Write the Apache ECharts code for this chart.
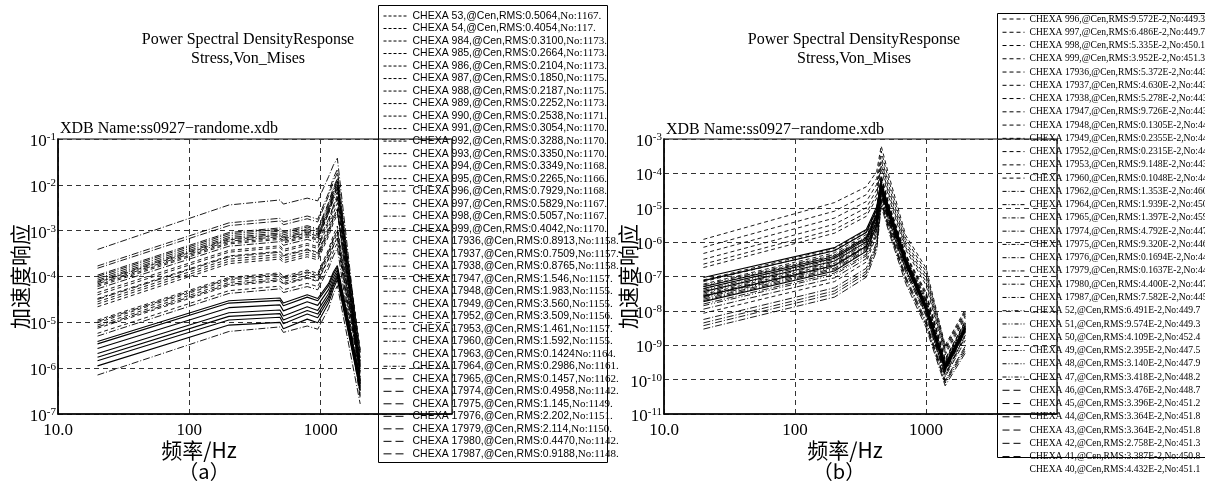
<!DOCTYPE html>
<html>
<head>
<meta charset="utf-8">
<title>Power Spectral Density Response</title>
<script src="https://cdn.jsdelivr.net/npm/echarts@6/dist/echarts.min.js"></script>
<style>
  html, body { margin: 0; padding: 0; background: #fff; }
  #main { width: 1205px; height: 481px; }
</style>
</head>
<body>
<div id="main"></div>
<script>
// 频率点 (Hz)
var freqA = [20, 200, 490, 520, 790, 950, 1150, 1250, 1340, 2000];
var freqB = [20, 200, 350, 420, 455, 520, 700, 1000, 1400, 2000];

// x 轴刻度文字
var xTicks = [10, 100, 1000];
var xTickText = ['10.0', '100', '1000'];

// (a) 图例名称
var namesA = [
  'CHEXA 53,@Cen,RMS:0.5064,No:1167.', 'CHEXA 54,@Cen,RMS:0.4054,No:117.',
  'CHEXA 984,@Cen,RMS:0.3100,No:1173.', 'CHEXA 985,@Cen,RMS:0.2664,No:1173.',
  'CHEXA 986,@Cen,RMS:0.2104,No:1173.', 'CHEXA 987,@Cen,RMS:0.1850,No:1175.',
  'CHEXA 988,@Cen,RMS:0.2187,No:1175.', 'CHEXA 989,@Cen,RMS:0.2252,No:1173.',
  'CHEXA 990,@Cen,RMS:0.2538,No:1171.', 'CHEXA 991,@Cen,RMS:0.3054,No:1170.',
  'CHEXA 992,@Cen,RMS:0.3288,No:1170.', 'CHEXA 993,@Cen,RMS:0.3350,No:1170.',
  'CHEXA 994,@Cen,RMS:0.3349,No:1168.', 'CHEXA 995,@Cen,RMS:0.2265,No:1166.',
  'CHEXA 996,@Cen,RMS:0.7929,No:1168.', 'CHEXA 997,@Cen,RMS:0.5829,No:1167.',
  'CHEXA 998,@Cen,RMS:0.5057,No:1167.', 'CHEXA 999,@Cen,RMS:0.4042,No:1170.',
  'CHEXA 17936,@Cen,RMS:0.8913,No:1158.', 'CHEXA 17937,@Cen,RMS:0.7509,No:1157.',
  'CHEXA 17938,@Cen,RMS:0.8765,No:1158.', 'CHEXA 17947,@Cen,RMS:1.546,No:1157.',
  'CHEXA 17948,@Cen,RMS:1.983,No:1155.', 'CHEXA 17949,@Cen,RMS:3.560,No:1155.',
  'CHEXA 17952,@Cen,RMS:3.509,No:1156.', 'CHEXA 17953,@Cen,RMS:1.461,No:1157.',
  'CHEXA 17960,@Cen,RMS:1.592,No:1155.', 'CHEXA 17963,@Cen,RMS:0.1424No:1164.',
  'CHEXA 17964,@Cen,RMS:0.2986,No:1161.', 'CHEXA 17965,@Cen,RMS:0.1457,No:1162.',
  'CHEXA 17974,@Cen,RMS:0.4958,No:1142.', 'CHEXA 17975,@Cen,RMS:1.145,No:1149.',
  'CHEXA 17976,@Cen,RMS:2.202,No:1151.', 'CHEXA 17979,@Cen,RMS:2.114,No:1150.',
  'CHEXA 17980,@Cen,RMS:0.4470,No:1142.', 'CHEXA 17987,@Cen,RMS:0.9188,No:1148.'
];
var stylesA = [
  'dash', 'dash', 'dash', 'dash', 'dash', 'dash', 'dash', 'dash', 'dash', 'dash', 'dash', 'dash', 'dash', 'dash',
  'dashdot', 'dashdot', 'dashdot', 'dashdot', 'dashdot', 'dashdot', 'dashdot', 'dashdot', 'dashdot', 'dashdot',
  'dashdot', 'dashdot', 'dashdot', 'dashdot', 'dashdot',
  'solid', 'solid', 'solid', 'solid', 'solid', 'solid', 'solid'
];

// (a) 响应值, 按对数坐标读出的 10 的幂次, 对应 freqA
var eA53    = [-4.22, -3.29, -3.19, -3.27, -3.14, -3.21, -2.62, -2.28, -2.05, -5.62];
var eA54    = [-4.35, -3.43, -3.33, -3.41, -3.28, -3.35, -2.78, -2.45, -2.22, -5.70];
var eA984   = [-4.40, -3.47, -3.37, -3.45, -3.32, -3.39, -2.84, -2.52, -2.30, -5.78];
var eA985   = [-4.48, -3.55, -3.45, -3.53, -3.40, -3.47, -2.93, -2.62, -2.40, -5.83];
var eA986   = [-4.55, -3.62, -3.52, -3.60, -3.47, -3.54, -3.02, -2.72, -2.52, -5.90];
var eA987   = [-4.66, -3.72, -3.62, -3.70, -3.57, -3.64, -3.12, -2.83, -2.64, -5.95];
var eA988   = [-4.95, -4.02, -3.92, -4.00, -3.86, -3.93, -3.40, -3.10, -2.90, -5.98];
var eA989   = [-5.01, -4.08, -3.98, -4.06, -3.92, -3.99, -3.47, -3.18, -2.98, -6.02];
var eA990   = [-5.06, -4.13, -4.03, -4.11, -3.97, -4.04, -3.53, -3.25, -3.05, -6.05];
var eA991   = [-5.13, -4.20, -4.10, -4.18, -4.04, -4.11, -3.62, -3.33, -3.14, -6.08];
var eA992   = [-5.24, -4.31, -4.21, -4.29, -4.15, -4.22, -3.73, -3.45, -3.26, -6.12];
var eA993   = [-4.13, -3.20, -3.10, -3.18, -3.05, -3.12, -2.52, -2.16, -1.92, -5.60];
var eA994   = [-4.19, -3.26, -3.16, -3.24, -3.11, -3.18, -2.58, -2.24, -2.00, -5.65];
var eA995   = [-4.60, -3.67, -3.57, -3.65, -3.52, -3.59, -3.06, -2.77, -2.58, -5.92];
var eA996   = [-3.41, -2.44, -2.33, -2.42, -2.29, -2.35, -1.82, -1.57, -1.42, -5.85];
var eA997   = [-3.77, -2.83, -2.73, -2.81, -2.68, -2.75, -2.17, -1.85, -1.66, -5.95];
var eA998   = [-3.82, -2.89, -2.79, -2.87, -2.74, -2.81, -2.24, -1.93, -1.74, -6.00];
var eA999   = [-3.97, -3.04, -2.94, -3.02, -2.89, -2.96, -2.38, -2.06, -1.86, -6.10];
var eA17936 = [-4.00, -3.07, -2.97, -3.05, -2.92, -2.99, -2.42, -2.10, -1.90, -6.15];
var eA17937 = [-4.04, -3.11, -3.01, -3.09, -2.96, -3.03, -2.47, -2.16, -1.96, -6.20];
var eA17938 = [-4.08, -3.15, -3.05, -3.13, -3.00, -3.07, -2.52, -2.21, -2.02, -6.25];
var eA17947 = [-4.11, -3.18, -3.08, -3.16, -3.03, -3.10, -2.56, -2.26, -2.08, -6.30];
var eA17948 = [-4.16, -3.23, -3.13, -3.21, -3.08, -3.15, -2.62, -2.33, -2.15, -6.35];
var eA17949 = [-4.27, -3.34, -3.24, -3.32, -3.19, -3.26, -2.74, -2.46, -2.28, -6.40];
var eA17952 = [-4.50, -3.57, -3.47, -3.55, -3.42, -3.49, -2.98, -2.70, -2.53, -6.50];
var eA17953 = [-4.98, -4.05, -3.95, -4.03, -3.90, -3.97, -3.46, -3.18, -3.01, -6.55];
var eA17960 = [-5.10, -4.17, -4.07, -4.15, -4.02, -4.09, -3.60, -3.33, -3.16, -6.60];
var eA17963 = [-6.15, -5.20, -5.10, -5.22, -5.08, -5.15, -4.70, -4.38, -4.20, -6.78];
var eA17964 = [-5.30, -4.37, -4.27, -4.35, -4.22, -4.29, -3.82, -3.55, -3.38, -6.65];
var eA17965 = [-5.42, -4.53, -4.47, -4.58, -4.40, -4.48, -4.15, -3.90, -3.76, -6.25];
var eA17974 = [-5.47, -4.58, -4.52, -4.64, -4.45, -4.53, -4.20, -3.95, -3.80, -6.28];
var eA17975 = [-5.57, -4.68, -4.62, -4.75, -4.55, -4.63, -4.28, -4.02, -3.86, -6.32];
var eA17976 = [-5.68, -4.79, -4.73, -4.86, -4.66, -4.74, -4.37, -4.09, -3.92, -6.36];
var eA17979 = [-5.76, -4.87, -4.81, -4.95, -4.74, -4.82, -4.44, -4.15, -3.97, -6.40];
var eA17980 = [-5.84, -4.95, -4.89, -5.03, -4.82, -4.90, -4.50, -4.20, -4.01, -6.44];
var eA17987 = [-5.95, -5.06, -5.00, -5.14, -4.93, -5.01, -4.58, -4.27, -4.07, -6.48];
var valsA = [eA53, eA54, eA984, eA985, eA986, eA987, eA988, eA989, eA990, eA991, eA992, eA993,
  eA994, eA995, eA996, eA997, eA998, eA999, eA17936, eA17937, eA17938, eA17947, eA17948,
  eA17949, eA17952, eA17953, eA17960, eA17963, eA17964, eA17965, eA17974, eA17975, eA17976,
  eA17979, eA17980, eA17987];

// (b) 图例名称
var namesB = [
  'CHEXA 996,@Cen,RMS:9.572E-2,No:449.3', 'CHEXA 997,@Cen,RMS:6.486E-2,No:449.7',
  'CHEXA 998,@Cen,RMS:5.335E-2,No:450.1', 'CHEXA 999,@Cen,RMS:3.952E-2,No:451.3',
  'CHEXA 17936,@Cen,RMS:5.372E-2,No:443.6', 'CHEXA 17937,@Cen,RMS:4.630E-2,No:443.8',
  'CHEXA 17938,@Cen,RMS:5.278E-2,No:443.5', 'CHEXA 17947,@Cen,RMS:9.726E-2,No:443.1',
  'CHEXA 17948,@Cen,RMS:0.1305E-2,No:448.6', 'CHEXA 17949,@Cen,RMS:0.2355E-2,No:447.3',
  'CHEXA 17952,@Cen,RMS:0.2315E-2,No:446.2', 'CHEXA 17953,@Cen,RMS:9.148E-2,No:443.4',
  'CHEXA 17960,@Cen,RMS:0.1048E-2,No:448.0', 'CHEXA 17962,@Cen,RMS:1.353E-2,No:460.1',
  'CHEXA 17964,@Cen,RMS:1.939E-2,No:450.6', 'CHEXA 17965,@Cen,RMS:1.397E-2,No:459.2',
  'CHEXA 17974,@Cen,RMS:4.792E-2,No:447.1', 'CHEXA 17975,@Cen,RMS:9.320E-2,No:446.5',
  'CHEXA 17976,@Cen,RMS:0.1694E-2,No:447.7', 'CHEXA 17979,@Cen,RMS:0.1637E-2,No:447.9',
  'CHEXA 17980,@Cen,RMS:4.400E-2,No:447.2', 'CHEXA 17987,@Cen,RMS:7.582E-2,No:445.8',
  'CHEXA 52,@Cen,RMS:6.491E-2,No:449.7', 'CHEXA 51,@Cen,RMS:9.574E-2,No:449.3',
  'CHEXA 50,@Cen,RMS:4.109E-2,No:452.4', 'CHEXA 49,@Cen,RMS:2.395E-2,No:447.5',
  'CHEXA 48,@Cen,RMS:3.140E-2,No:447.9', 'CHEXA 47,@Cen,RMS:3.418E-2,No:448.2',
  'CHEXA 46,@Cen,RMS:3.476E-2,No:448.7', 'CHEXA 45,@Cen,RMS:3.396E-2,No:451.2',
  'CHEXA 44,@Cen,RMS:3.364E-2,No:451.8', 'CHEXA 43,@Cen,RMS:3.364E-2,No:451.8',
  'CHEXA 42,@Cen,RMS:2.758E-2,No:451.3', 'CHEXA 41,@Cen,RMS:3.387E-2,No:450.8',
  'CHEXA 40,@Cen,RMS:4.432E-2,No:451.1'
];
var stylesB = [
  'dash', 'dash', 'dash', 'dash', 'dash', 'dash', 'dash', 'dash', 'dash', 'dash', 'dash', 'dash', 'dash',
  'dashdot', 'dashdot', 'dashdot', 'dashdot', 'dashdot', 'dashdot', 'dashdot', 'dashdot', 'dashdot',
  'dashdot2', 'dashdot2', 'dashdot2', 'dashdot2', 'dashdot2', 'dashdot2',
  'solid', 'solid', 'solid', 'solid', 'solid', 'solid', 'plain'
];

// (b) 响应值, 10 的幂次, 对应 freqB
var eB996   = [-5.92, -4.85, -4.39, -3.95, -3.20, -4.05, -5.80, -6.75, -9.00, -7.95];
var eB997   = [-6.15, -5.10, -4.62, -4.15, -3.35, -4.20, -5.90, -6.85, -9.05, -8.00];
var eB998   = [-6.33, -5.30, -4.82, -4.32, -3.50, -4.35, -6.00, -6.95, -9.10, -8.05];
var eB999   = [-6.50, -5.48, -5.00, -4.48, -3.62, -4.48, -6.08, -7.05, -9.15, -8.10];
var eB17936 = [-6.64, -5.63, -5.15, -4.62, -3.75, -4.60, -6.15, -7.15, -9.22, -8.15];
var eB17937 = [-6.74, -5.74, -5.25, -4.72, -3.85, -4.70, -6.22, -7.25, -9.28, -8.20];
var eB17938 = [-7.10, -6.18, -5.66, -5.02, -4.05, -4.88, -6.35, -7.45, -9.40, -8.28];
var eB17947 = [-7.22, -6.31, -5.78, -5.12, -4.12, -4.95, -6.40, -7.55, -9.45, -8.32];
var eB17948 = [-7.29, -6.38, -5.86, -5.18, -4.18, -5.00, -6.45, -7.62, -9.50, -8.36];
var eB17949 = [-7.36, -6.45, -5.93, -5.24, -4.22, -5.05, -6.50, -7.70, -9.55, -8.40];
var eB17952 = [-7.52, -6.62, -6.10, -5.38, -4.30, -5.12, -6.58, -7.80, -9.62, -8.46];
var eB17953 = [-8.07, -7.15, -6.58, -5.80, -4.55, -5.35, -6.80, -8.10, -9.85, -8.70];
var eB17960 = [-7.15, -6.23, -5.71, -5.06, -4.08, -4.92, -6.38, -7.50, -9.42, -8.30];
var eB17962 = [-7.59, -6.68, -6.15, -5.45, -4.45, -5.25, -6.62, -7.90, -9.70, -8.55];
var eB17964 = [-7.66, -6.76, -6.22, -5.52, -4.50, -5.30, -6.68, -7.95, -9.75, -8.60];
var eB17965 = [-8.43, -7.50, -6.92, -6.15, -4.85, -5.62, -7.10, -8.40, -10.10, -9.15];
var eB17974 = [-8.53, -7.60, -7.02, -6.25, -4.95, -5.70, -7.20, -8.48, -10.18, -9.22];
var eB17975 = [-7.80, -6.90, -6.35, -5.62, -4.58, -5.38, -6.78, -8.05, -9.85, -8.70];
var eB17976 = [-8.25, -7.33, -6.76, -6.00, -4.75, -5.52, -7.00, -8.28, -10.02, -9.02];
var eB17979 = [-7.95, -7.04, -6.48, -5.74, -4.65, -5.45, -6.88, -8.15, -9.92, -8.85];
var eB17980 = [-7.70, -6.80, -6.26, -5.55, -4.52, -5.32, -6.70, -7.98, -9.78, -8.62];
var eB17987 = [-8.35, -7.42, -6.85, -6.08, -4.80, -5.58, -7.05, -8.35, -10.06, -9.08];
var eB52    = [-7.48, -6.58, -6.05, -5.34, -4.36, -5.16, -6.56, -7.78, -9.60, -8.44];
var eB51    = [-7.55, -6.65, -6.12, -5.40, -4.40, -5.20, -6.60, -7.84, -9.65, -8.48];
var eB50    = [-7.62, -6.72, -6.18, -5.47, -4.46, -5.26, -6.64, -7.90, -9.70, -8.52];
var eB49    = [-7.40, -6.50, -5.98, -5.28, -4.32, -5.12, -6.52, -7.72, -9.56, -8.40];
var eB48    = [-7.25, -6.36, -5.84, -5.15, -4.25, -5.06, -6.46, -7.66, -9.50, -8.36];
var eB47    = [-7.85, -6.95, -6.40, -5.66, -4.60, -5.40, -6.80, -8.08, -9.88, -8.76];
var eB46    = [-7.03, -6.16, -5.63, -4.97, -4.28, -5.00, -6.45, -7.82, -9.55, -8.45];
var eB45    = [-7.12, -6.25, -5.72, -5.05, -4.32, -5.04, -6.50, -7.86, -9.58, -8.48];
var eB44    = [-7.30, -6.42, -5.88, -5.18, -4.38, -5.10, -6.55, -7.90, -9.62, -8.50];
var eB43    = [-7.44, -6.55, -6.00, -5.28, -4.42, -5.14, -6.58, -7.93, -9.65, -8.52];
var eB42    = [-7.57, -6.68, -6.12, -5.38, -4.46, -5.18, -6.62, -7.96, -9.68, -8.55];
var eB41    = [-7.73, -6.84, -6.27, -5.50, -4.50, -5.22, -6.66, -8.00, -9.72, -8.58];
var eB40    = [-7.35, -6.47, -5.92, -5.22, -4.40, -5.12, -6.56, -7.91, -9.63, -8.51];
var valsB = [eB996, eB997, eB998, eB999, eB17936, eB17937, eB17938, eB17947, eB17948, eB17949,
  eB17952, eB17953, eB17960, eB17962, eB17964, eB17965, eB17974, eB17975, eB17976, eB17979,
  eB17980, eB17987, eB52, eB51, eB50, eB49, eB48, eB47, eB46, eB45, eB44, eB43, eB42, eB41, eB40];

// 线型
var plotDash = {dash: [4, 3], dashdot: [7, 2, 1, 2], dashdot2: [6, 2, 1, 2, 1, 2], solid: 'solid', plain: 'solid'};
var legendDashA = {dash: [3, 2], dashdot: [4, 2, 1, 2], solid: [8, 4]};
var legendDashB = {dash: [4, 3], dashdot: [4, 2, 1, 2], dashdot2: [4, 2, 1, 2, 1, 2], solid: [7, 4], plain: 'solid'};

var serif = 'Liberation Serif';
var cjk = 'Noto Sans CJK SC';

function makeSeries(names, styles, vals, freq, idx) {
  return names.map(function (n, i) {
    var st = styles[i];
    return {
      name: n, type: 'line', xAxisIndex: idx, yAxisIndex: idx,
      symbol: 'none', silent: true, animation: false, color: '#000',
      lineStyle: {color: '#000', width: (st === 'solid' || st === 'plain') ? 1.1 : 0.9, type: plotDash[st]},
      data: freq.map(function (f, k) { return [f, Math.pow(10, vals[i][k])]; })
    };
  });
}

function legendItems(names, styles, dashes) {
  return names.map(function (n, i) {
    var st = styles[i];
    return {name: n, lineStyle: {type: dashes[st], width: 1, color: '#000', opacity: st === 'plain' ? 0 : 1}};
  });
}

function legendText(name) {
  var k = name.lastIndexOf('No:');
  return '{m|' + name.slice(0, k) + '}{n|' + name.slice(k) + '}';
}

function xLabel(v) {
  var i = xTicks.indexOf(Math.round(v));
  return i < 0 ? '' : xTickText[i];
}

function yLabel(v) {
  var e = Math.round(Math.log(v) / Math.LN10);
  return '{b|10}{s|' + e + '}';
}

var supRich = {
  b: {fontFamily: serif, fontSize: 17, lineHeight: 18, color: '#000', verticalAlign: 'bottom'},
  s: {fontFamily: serif, fontSize: 11, lineHeight: 11, color: '#000', verticalAlign: 'top'}
};

function xAxisOf(idx) {
  return {
    type: 'log', gridIndex: idx, logBase: 10, min: 10, max: 10000, splitNumber: 3,
    axisLine: {show: true, lineStyle: {color: '#000', width: 1.5}},
    axisTick: {show: false},
    splitLine: {show: true, lineStyle: {color: '#333', type: [5, 4], width: 1}},
    axisLabel: {formatter: xLabel, margin: 8, fontFamily: serif, fontSize: 17, color: '#000'}
  };
}

function yAxisOf(idx, min, max, n, gap) {
  return {
    type: 'log', gridIndex: idx, logBase: 10, min: min, max: max, splitNumber: n,
    axisLine: {show: true, lineStyle: {color: '#000', width: 1.5}},
    axisTick: {show: false},
    splitLine: {show: true, lineStyle: {color: '#333', type: [5, 4], width: 1}},
    axisLabel: {formatter: yLabel, margin: 2, padding: [4, 0, 0, 0], rich: supRich},
    name: '加速度响应', nameLocation: 'middle', nameRotate: 90, nameGap: gap, nameMoveOverlap: false,
    nameTextStyle: {fontFamily: cjk, fontSize: 21, color: '#000'}
  };
}

function txt(x, y, s, font, align) {
  return {
    type: 'text', x: x, y: y, silent: true,
    style: {text: s, font: font, fill: '#000', align: align, textAlign: align,
      verticalAlign: 'middle', textVerticalAlign: 'middle'}
  };
}

var chart = echarts.init(document.getElementById('main'), null, {renderer: 'canvas'});

var option = {
  animation: false,
  backgroundColor: '#fff',
  grid: [
    {left: 58, top: 139, width: 394, height: 275, show: true, borderColor: '#000', borderWidth: 1.2, outerBoundsMode: 'none'},
    {left: 664, top: 139, width: 393, height: 275, show: true, borderColor: '#000', borderWidth: 1.2, outerBoundsMode: 'none'}
  ],
  xAxis: [xAxisOf(0), xAxisOf(1)],
  yAxis: [yAxisOf(0, 1e-7, 1e-1, 6, 27), yAxisOf(1, 1e-11, 1e-3, 8, 25)],
  legend: [
    {
      orient: 'vertical', left: 383, top: 10, height: 470, padding: 0,
      itemWidth: 24, itemHeight: 12, itemGap: 0.51, selectedMode: false,
      itemStyle: {color: 'rgba(0,0,0,0)', borderWidth: 0, opacity: 0},
      data: legendItems(namesA, stylesA, legendDashA),
      formatter: legendText,
      textStyle: {color: '#000', fontSize: 10.5, lineHeight: 12, fontFamily: 'Liberation Sans',
        rich: {
          m: {fontFamily: 'Liberation Sans', fontSize: 10.5, lineHeight: 12, color: '#000'},
          n: {fontFamily: serif, fontSize: 11, lineHeight: 12, color: '#000'}
        }}
    },
    {
      orient: 'vertical', left: 1002, top: 13, height: 468, padding: 0,
      itemWidth: 22, itemHeight: 12, itemGap: 1.26, selectedMode: false,
      itemStyle: {color: 'rgba(0,0,0,0)', borderWidth: 0, opacity: 0},
      data: legendItems(namesB, stylesB, legendDashB),
      textStyle: {color: '#000', fontSize: 9.6, lineHeight: 12, fontFamily: serif}
    }
  ],
  graphic: [
    {type: 'rect', silent: true, shape: {x: 378.5, y: 5.5, width: 229, height: 457},
      style: {fill: 'none', stroke: '#000', lineWidth: 1}},
    {type: 'rect', silent: true, shape: {x: 997.5, y: 13.5, width: 230, height: 444},
      style: {fill: 'none', stroke: '#000', lineWidth: 1}},
    txt(248, 40, 'Power Spectral DensityResponse', '16px "Liberation Serif"', 'center'),
    txt(248, 59, 'Stress,Von_Mises', '16px "Liberation Serif"', 'center'),
    txt(854, 40, 'Power Spectral DensityResponse', '16px "Liberation Serif"', 'center'),
    txt(854, 59, 'Stress,Von_Mises', '16px "Liberation Serif"', 'center'),
    txt(60, 129, 'XDB Name:ss0927\u2212randome.xdb', '16px "Liberation Serif"', 'left'),
    txt(666, 130, 'XDB Name:ss0927\u2212randome.xdb', '16px "Liberation Serif"', 'left'),
    txt(199, 450, '频率/Hz', '21px "Noto Sans CJK SC"', 'center'),
    txt(845, 450, '频率/Hz', '21px "Noto Sans CJK SC"', 'center'),
    txt(204, 471, '（a）', '20px "Noto Sans CJK SC"', 'center'),
    txt(839, 471, '（b）', '20px "Noto Sans CJK SC"', 'center')
  ],
  series: makeSeries(namesA, stylesA, valsA, freqA, 0).concat(makeSeries(namesB, stylesB, valsB, freqB, 1))
};

chart.setOption(option);
</script>
</body>
</html>
